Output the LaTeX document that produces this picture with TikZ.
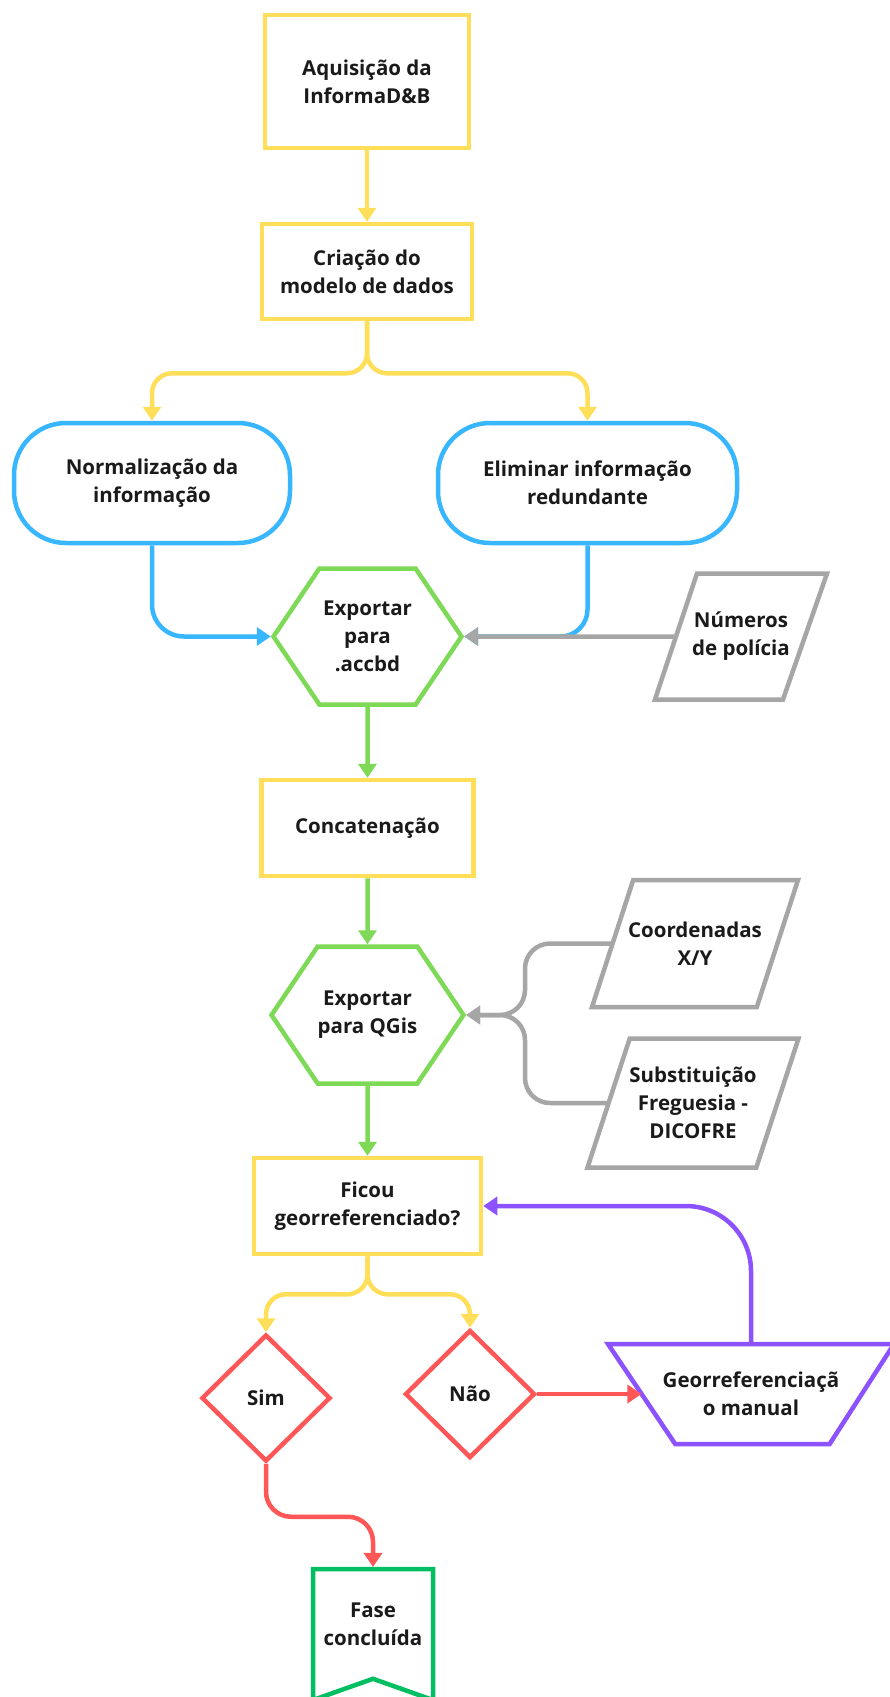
\documentclass[tikz,border=0pt]{standalone}
\usepackage{fontspec}
\setmainfont{Open Sans}
\usetikzlibrary{positioning,arrows.meta,shapes.geometric,shapes.misc,shapes.symbols,calc}
\definecolor{amarelo}{HTML}{FFDE59}
\definecolor{azul}{HTML}{38B6FF}
\definecolor{verde}{HTML}{7ED957}
\definecolor{cinza}{HTML}{A6A6A6}
\definecolor{vermelho}{HTML}{FF5757}
\definecolor{roxo}{HTML}{8C52FF}
\definecolor{verdeesc}{HTML}{00BF63}
\definecolor{texto}{HTML}{1A1A1A}
\tikzset{
>={Triangle[width=18pt,length=14pt]},
base/.style = {line width=4.5pt, inner sep=0pt, align=center, text=texto,
               font=\bfseries\fontsize{20.5}{28}\selectfont},
caixa/.style={base, rectangle, draw=amarelo},
terminal/.style={base, rectangle, rounded corners=52pt, draw=azul},
hexa/.style={base, signal, signal to=west and east, signal pointer angle=112, draw=verde},
dados/.style={base, rectangle, outer sep=0pt},
decisao/.style={base, diamond, draw=vermelho},
manual/.style={base, rectangle, outer sep=0pt},
fim/.style={base, signal, signal to=nothing, signal from=south, signal pointer angle=141, draw=verdeesc},
contorno/.style={line width=4.5pt},
ligam/.style={line width=4.5pt, ->, rounded corners=20pt},
}

\begin{document}
\begin{tikzpicture}[x=1pt, y=-1pt]

    \useasboundingbox[fill=white] (0,0) rectangle (889,1697);

    \node[caixa, minimum width=204pt, minimum height=133pt] (aquis) at(367, 81.5) {Aquisição da\\InformaD\&B};
    \node[caixa, minimum width=210pt, minimum height=95pt] (criacao) at(367, 271.5) {Criação do\\modelo de dados};

    \node[terminal, minimum width=276pt, minimum height=120pt] (normal) at(152, 483) {Normalização da\\informação};
    \node[terminal, minimum width=299pt, minimum height=120pt] (elimin) at(587.5, 483) {Eliminar informação\\redundante};

    \node[hexa, minimum width=188pt, minimum height=136pt] (accbd) at(367.5, 636.5) {Exportar\\para\\.accbd};
    \node[dados, minimum width=172pt, minimum height=126pt] (numeros) at(741, 636.5) {Números\\de polícia};
    \draw[contorno, cinza] ($(numeros.north west)!.244!(numeros.north east)$) -- (numeros.north east)
        -- ($(numeros.south west)!.744!(numeros.south east)$) -- (numeros.south west) -- cycle;

    \node[caixa, minimum width=212pt, minimum height=96pt] (concat) at(367.5, 828) {Concatenação};

    \node[hexa, minimum width=188pt, minimum height=137pt] (qgis) at(367.5, 1015) {Exportar\\para QGis};
    \node[dados, minimum width=206pt, minimum height=127pt] (coord) at(695, 943.5) {Coordenadas\\X/Y};
    \draw[contorno, cinza] ($(coord.north west)!.2!(coord.north east)$) -- (coord.north east)
        -- ($(coord.south west)!.8!(coord.south east)$) -- (coord.south west) -- cycle;
    \node[dados, minimum width=211pt, minimum height=129pt] (subst) at(693, 1103) {Substituição\\Freguesia -\\DICOFRE};
    \draw[contorno, cinza] ($(subst.north west)!.2!(subst.north east)$) -- (subst.north east)
        -- ($(subst.south west)!.8!(subst.south east)$) -- (subst.south west) -- cycle;
    \coordinate (junta) at(525, 1015);

    \node[caixa, minimum width=227pt, minimum height=96pt] (ficou) at(367.5, 1206) {Ficou\\georreferenciado?};

    \node[decisao, minimum width=129pt, minimum height=127pt] (sim) at(266, 1398) {Sim};
    \node[decisao, minimum width=130pt, minimum height=128pt] (nao) at(470, 1394) {Não};
    \node[manual, minimum width=286pt, minimum height=100pt] (georef) at(751, 1394) {Georreferenciaçã\\o manual};
    \draw[contorno, roxo] (georef.north west) -- (georef.north east)
        -- ($(georef.south west)!.775!(georef.south east)$) -- ($(georef.south west)!.235!(georef.south east)$) -- cycle;

    \node[fim, minimum width=120pt, minimum height=127pt] (fase) at(373, 1624) {Fase\\concluída};

    \draw[ligam, amarelo] (aquis) -- (criacao);
    \draw[ligam, amarelo] (criacao.south) -- ++(0,52) -| (normal.north);
    \draw[ligam, amarelo] (criacao.south) -- ++(0,52) -| (elimin.north);

    \draw[ligam, azul, rounded corners=32pt] (normal.south) |- (accbd.west);
    \draw[ligam, azul, rounded corners=27pt] (elimin.south) |- (accbd.east);
    \draw[ligam, cinza] ($(numeros.west)!.122!(numeros.east)$) -- (accbd.east);

    \draw[ligam, verde] (accbd) -- (concat);
    \draw[ligam, verde] (concat) -- (qgis);

    \draw[ligam, cinza, rounded corners=25pt] ($(coord.west)!.1!(coord.east)$) -| (junta) -- (qgis.east);
    \draw[ligam, cinza, rounded corners=25pt] ($(subst.west)!.1!(subst.east)$) -| (junta) -- (qgis.east);

    \draw[ligam, verde] (qgis) -- (ficou);

    \draw[ligam, amarelo] (ficou.south) -- ++(0,38) -| (sim.north);
    \draw[ligam, amarelo] (ficou.south) -- ++(0,38) -| (nao.north);

    \draw[ligam, vermelho] (nao.east) -- ($(georef.west)!.117!(georef.east)$);
    \draw[ligam, roxo, rounded corners=65pt] (georef.north) |- (ficou.east);

    \draw[ligam, vermelho, rounded corners=25pt] (sim.south) -- ++(0,53) -| (fase.north);

\end{tikzpicture}
\end{document}
